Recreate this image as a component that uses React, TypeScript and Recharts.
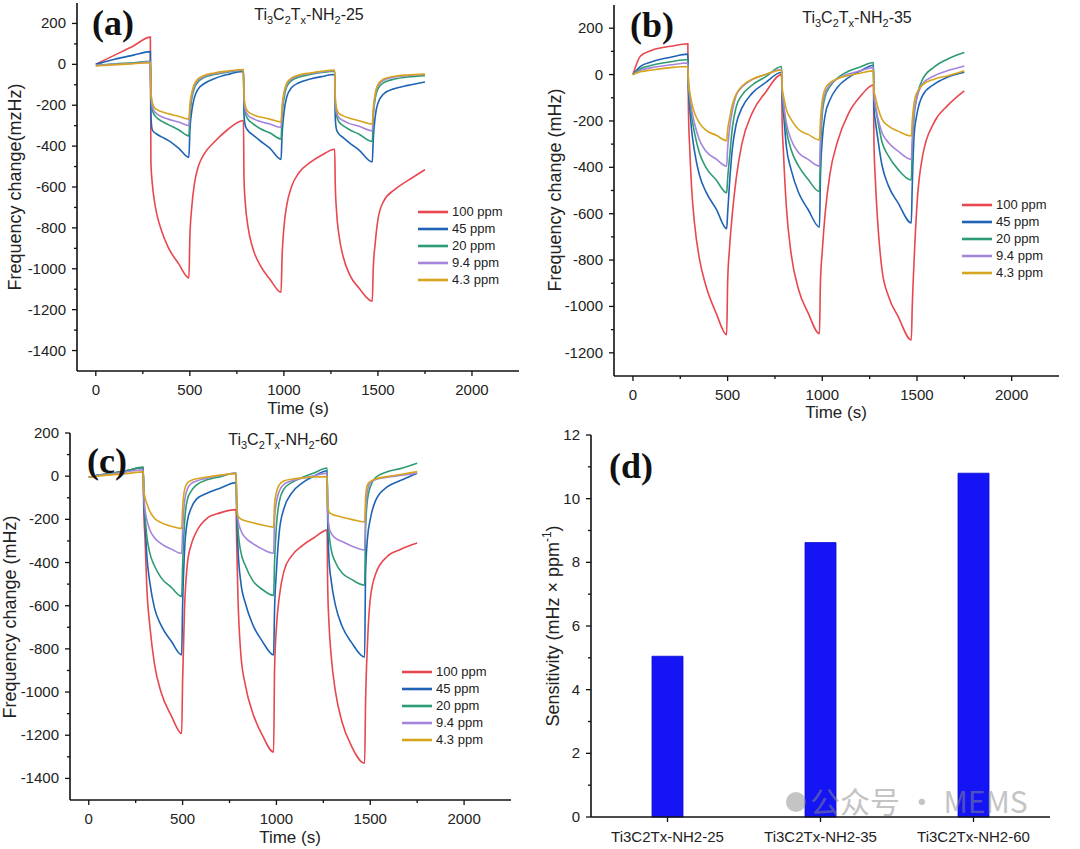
import React from "react";
import { LineChart, Line, XAxis, YAxis, BarChart, Bar, Legend } from "recharts";

const FONT = '"Liberation Sans", Arial, Helvetica, sans-serif';
const SERIF = '"Liberation Serif", "Times New Roman", serif';
const AXIS = "#111";
const TEXT = "#222";

// shared sampling times (s) for the three response panels
const TIME = [
  0, 40, 100, 200, 290,
  293, 300, 310, 325, 350, 385, 440, 495,
  500, 510, 525, 545, 575, 630, 700, 785,
  788, 795, 810, 835, 875, 925, 985,
  990, 1000, 1015, 1040, 1080, 1140, 1200, 1270,
  1273, 1280, 1292, 1315, 1350, 1400, 1470,
  1475, 1485, 1500, 1530, 1590, 1660, 1750,
];

// (a) Ti3C2Tx-NH2-25
const RED_A = [
  0, 18, 45, 90, 133,
  -480, -580, -660, -735, -815, -895, -975, -1045,
  -850, -700, -580, -500, -440, -380, -320, -275,
  -560, -680, -800, -900, -985, -1050, -1115,
  -950, -800, -690, -600, -530, -480, -445, -415,
  -580, -720, -830, -940, -1030, -1095, -1158,
  -1000, -880, -760, -670, -612, -568, -515,
];
const BLUE_A = [
  0, 10, 25, 45, 62,
  -250, -320, -332, -342, -355, -372, -410, -455,
  -330, -230, -160, -120, -95, -70, -50, -35,
  -250, -300, -325, -345, -375, -410, -465,
  -350, -240, -160, -115, -90, -72, -60, -50,
  -260, -320, -340, -358, -385, -420, -478,
  -370, -260, -190, -145, -118, -103, -86,
];
const GREEN_A = [
  -5, -2, 2, 8, 15,
  -150, -220, -245, -262, -278, -295, -320, -350,
  -260, -170, -115, -85, -65, -50, -38, -30,
  -180, -240, -270, -290, -315, -335, -365,
  -260, -170, -110, -80, -62, -50, -40, -33,
  -190, -250, -280, -300, -320, -342, -378,
  -260, -170, -120, -90, -72, -62, -55,
];
const PURPLE_A = [
  -5, -3, 0, 5, 12,
  -140, -205, -228, -243, -256, -268, -282, -300,
  -230, -155, -105, -78, -60, -46, -36, -28,
  -170, -225, -250, -265, -280, -292, -308,
  -230, -150, -100, -72, -56, -45, -37, -30,
  -180, -235, -260, -275, -290, -303, -325,
  -240, -155, -105, -78, -62, -55, -50,
];
const YELLOW_A = [
  -8, -6, -2, 3, 8,
  -130, -185, -210, -222, -232, -242, -254, -268,
  -200, -140, -95, -70, -55, -42, -33, -25,
  -150, -205, -232, -246, -258, -268, -282,
  -210, -140, -92, -67, -52, -42, -34, -28,
  -160, -215, -240, -252, -264, -276, -292,
  -220, -145, -98, -72, -58, -52, -48,
];

// (b) Ti3C2Tx-NH2-35
const RED_B = [
  0, 80, 105, 122, 133,
  -150, -320, -490, -640, -790, -910, -1030, -1122,
  -900, -750, -600, -450, -300, -165, -77, 0,
  -200, -337, -568, -770, -928, -1028, -1118,
  -900, -760, -600, -430, -290, -165, -95, -45,
  -300, -450, -630, -840, -957, -1043, -1145,
  -1000, -800, -560, -350, -207, -135, -70,
];
const BLUE_B = [
  0, 35, 55, 75, 88,
  -60, -145, -240, -330, -430, -505, -580, -665,
  -600, -470, -320, -215, -145, -80, -35, 10,
  -100, -164, -309, -409, -510, -582, -658,
  -450, -280, -175, -110, -55, -12, 15, 40,
  -150, -200, -270, -390, -481, -553, -640,
  -480, -260, -170, -90, -42, -12, 10,
];
const GREEN_B = [
  0, 25, 40, 55, 65,
  -40, -105, -180, -250, -335, -400, -455, -510,
  -450, -360, -230, -140, -90, -45, -10, 35,
  -80, -136, -237, -323, -395, -452, -505,
  -350, -170, -95, -52, -15, 15, 33, 52,
  -100, -140, -195, -290, -352, -409, -455,
  -320, -180, -95, -20, 32, 66, 95,
];
const PURPLE_B = [
  0, 18, 30, 42, 50,
  -35, -90, -150, -210, -280, -330, -365, -395,
  -320, -235, -155, -90, -55, -22, 0, 22,
  -70, -121, -207, -280, -337, -366, -395,
  -280, -140, -80, -44, -18, 3, 16, 30,
  -90, -130, -182, -250, -294, -330, -366,
  -280, -160, -100, -40, -6, 16, 37,
];
const YELLOW_B = [
  0, 12, 20, 30, 35,
  -30, -75, -120, -165, -207, -240, -262, -285,
  -240, -190, -130, -85, -50, -20, 0, 20,
  -55, -92, -150, -193, -237, -258, -282,
  -200, -110, -62, -36, -18, -4, 6, 16,
  -70, -95, -138, -192, -222, -244, -265,
  -200, -120, -77, -45, -20, -6, 16,
];

// (c) Ti3C2Tx-NH2-60
const RED_C = [
  -5, 3, 10, 25, 40,
  -150, -294, -530, -690, -870, -1000, -1110, -1192,
  -950, -620, -410, -320, -255, -195, -170, -155,
  -300, -560, -820, -970, -1100, -1200, -1278,
  -900, -700, -560, -440, -370, -320, -285, -250,
  -500, -680, -835, -1000, -1140, -1250, -1330,
  -1050, -780, -570, -450, -372, -340, -310,
];
const BLUE_C = [
  -5, 3, 10, 25, 40,
  -100, -218, -375, -490, -610, -690, -765, -828,
  -600, -350, -210, -150, -105, -79, -56, -30,
  -150, -330, -490, -590, -690, -765, -828,
  -620, -440, -260, -150, -80, -30, 0, 25,
  -200, -380, -485, -600, -695, -770, -838,
  -450, -290, -200, -110, -50, -20, 14,
];
const GREEN_C = [
  -5, 3, 10, 25, 42,
  -90, -187, -282, -355, -415, -470, -515, -557,
  -420, -220, -110, -70, -40, -17, -2, 15,
  -120, -240, -350, -415, -485, -525, -552,
  -400, -230, -120, -60, -30, -5, 15, 38,
  -150, -260, -340, -400, -448, -478, -505,
  -250, -110, -50, -5, 20, 35, 60,
];
const PURPLE_C = [
  -5, 2, 8, 20, 30,
  -80, -156, -205, -248, -285, -312, -338, -358,
  -260, -120, -60, -35, -22, -9, 3, 14,
  -110, -200, -250, -285, -312, -338, -357,
  -200, -120, -70, -38, -22, -10, 2, 14,
  -150, -235, -265, -287, -303, -323, -342,
  -180, -70, -30, -15, -5, 3, 14,
];
const YELLOW_C = [
  -5, 0, 5, 12, 20,
  -60, -100, -128, -162, -195, -215, -232, -242,
  -150, -65, -32, -20, -12, -4, 5, 12,
  -120, -185, -198, -207, -216, -226, -236,
  -130, -75, -40, -22, -14, -8, -4, -2,
  -120, -165, -175, -182, -190, -200, -212,
  -100, -40, -25, -12, -2, 8, 21,
];

// (d) sensitivity
const SAMPLES = ["Ti3C2Tx-NH2-25", "Ti3C2Tx-NH2-35", "Ti3C2Tx-NH2-60"];
const SENSITIVITY = [5.05, 8.62, 10.8];

const X_TICKS = [0, 250, 500, 750, 1000, 1250, 1500, 1750, 2000];
const Y_TICKS_A = [-1400, -1300, -1200, -1100, -1000, -900, -800, -700, -600, -500, -400, -300, -200, -100, 0, 100, 200];
const Y_TICKS_B = [-1200, -1100, -1000, -900, -800, -700, -600, -500, -400, -300, -200, -100, 0, 100, 200];
const Y_TICKS_C = [-1400, -1300, -1200, -1100, -1000, -900, -800, -700, -600, -500, -400, -300, -200, -100, 0, 100, 200];
const Y_TICKS_D = [0, 1, 2, 3, 4, 5, 6, 7, 8, 9, 10, 11, 12];

const SERIES = [
  { key: "p100", label: "100 ppm", color: "#e8474f" },
  { key: "p45", label: "45 ppm", color: "#1f64b4" },
  { key: "p20", label: "20 ppm", color: "#2e9c73" },
  { key: "p9", label: "9.4 ppm", color: "#a585db" },
  { key: "p4", label: "4.3 ppm", color: "#d6a41e" },
];

function buildRows(cols: number[][]) {
  return TIME.map((t, i) => {
    const row: Record<string, number> = { t };
    SERIES.forEach((s, k) => {
      row[s.key] = cols[k][i];
    });
    return row;
  });
}

function xTick(isMajor: (v: number) => boolean, fontSize: number) {
  return (props: any) => {
    const { x, y, payload } = props;
    const major = isMajor(payload.value);
    return (
      <g>
        <line x1={x} y1={y} x2={x} y2={y + (major ? 5 : 3)} stroke={AXIS} strokeWidth={1.3} />
        {major && (
          <text x={x} y={y + 24} textAnchor="middle" fontSize={fontSize} fontFamily={FONT} fill={TEXT}>
            {payload.value}
          </text>
        )}
      </g>
    );
  };
}

function yTick(isMajor: (v: number) => boolean, fontSize: number) {
  return (props: any) => {
    const { x, y, payload } = props;
    const major = isMajor(payload.value);
    return (
      <g>
        <line x1={x} y1={y} x2={x - (major ? 5 : 3)} y2={y} stroke={AXIS} strokeWidth={1.3} />
        {major && (
          <text x={x - 11} y={y + 5} textAnchor="end" fontSize={fontSize} fontFamily={FONT} fill={TEXT}>
            {payload.value}
          </text>
        )}
      </g>
    );
  };
}

function categoryTick(props: any) {
  const { x, y, payload } = props;
  return (
    <g>
      <line x1={x} y1={y} x2={x} y2={y + 5} stroke={AXIS} strokeWidth={1.3} />
      <text x={x} y={y + 25} textAnchor="middle" fontSize={15} fontFamily={FONT} fill={TEXT}>
        {payload.value}
      </text>
    </g>
  );
}

function LegendBox() {
  return (
    <div style={{ fontFamily: FONT, fontSize: 13, color: TEXT, lineHeight: "17px" }}>
      {SERIES.map((s) => (
        <div key={s.key} style={{ display: "flex", alignItems: "center", height: 17 }}>
          <svg width={30} height={6}>
            <line x1={0} y1={3} x2={30} y2={3} stroke={s.color} strokeWidth={2.6} />
          </svg>
          <span style={{ marginLeft: 4 }}>{s.label}</span>
        </div>
      ))}
    </div>
  );
}

interface PanelProps {
  left: number;
  top: number;
  height: number;
  margin: { top: number; right: number; bottom: number; left: number };
  yDomain: [number, number];
  yTicks: number[];
  cols: number[][];
  legend: { left: number; top: number };
}

const frame = { stroke: AXIS, strokeWidth: 1.6 };
const xMajor = (v: number) => v % 500 === 0;
const yMajor = (v: number) => v % 200 === 0;

function ResponsePanel({ left, top, height, margin, yDomain, yTicks, cols, legend }: PanelProps) {
  const rows = buildRows(cols);
  return (
    <div style={{ position: "absolute", left, top, width: 540, height }}>
      <LineChart width={540} height={height} data={rows} margin={margin}>
        <XAxis
          dataKey="t"
          type="number"
          domain={[-100, 2250]}
          ticks={X_TICKS}
          interval={0}
          tickSize={0}
          tickMargin={0}
          tickLine={false}
          axisLine={frame}
          tick={xTick(xMajor, 15)}
          height={30}
        />
        <XAxis xAxisId="top" orientation="top" dataKey="t" type="number" domain={[-100, 2250]} height={0} tick={false} tickLine={false} axisLine={frame} />
        <YAxis
          type="number"
          domain={yDomain}
          ticks={yTicks}
          interval={0}
          tickSize={0}
          tickMargin={0}
          tickLine={false}
          axisLine={frame}
          tick={yTick(yMajor, 15)}
          width={60}
        />
        <YAxis yAxisId="right" orientation="right" type="number" domain={yDomain} width={0} tick={false} tickLine={false} axisLine={frame} />
        <Legend
          layout="vertical"
          align="center"
          verticalAlign="middle"
          wrapperStyle={{ left: legend.left, top: legend.top, width: 110 }}
          content={() => <LegendBox />}
        />
        {SERIES.map((s) => (
          <Line
            key={s.key}
            dataKey={s.key}
            name={s.label}
            type="monotone"
            stroke={s.color}
            strokeWidth={1.6}
            dot={false}
            isAnimationActive={false}
          />
        ))}
      </LineChart>
    </div>
  );
}

function SensitivityPanel() {
  const rows = SAMPLES.map((name, i) => ({ name, s: SENSITIVITY[i] }));
  return (
    <div style={{ position: "absolute", left: 540, top: 420, width: 540, height: 429 }}>
      <BarChart width={540} height={429} data={rows} margin={{ top: 15, right: 30, bottom: 2, left: 11 }} barSize={31}>
        <XAxis
          dataKey="name"
          interval={0}
          tickSize={0}
          tickMargin={0}
          tickLine={false}
          axisLine={frame}
          tick={categoryTick}
          height={30}
        />
        <XAxis xAxisId="top" orientation="top" dataKey="name" height={0} tick={false} tickLine={false} axisLine={frame} />
        <YAxis
          type="number"
          domain={[0, 12]}
          ticks={Y_TICKS_D}
          interval={0}
          tickSize={0}
          tickMargin={0}
          tickLine={false}
          axisLine={frame}
          tick={yTick((v) => v % 2 === 0, 15)}
          width={40}
        />
        <YAxis yAxisId="right" orientation="right" type="number" domain={[0, 12]} width={0} tick={false} tickLine={false} axisLine={frame} />
        <Bar dataKey="s" fill="#1414f4" stroke="#0a0ad0" strokeWidth={0.8} isAnimationActive={false} />
      </BarChart>
    </div>
  );
}

function Title({ x, y, suffix }: { x: number; y: number; suffix: string }) {
  return (
    <text x={x} y={y} textAnchor="middle" fontSize={16} fontFamily={FONT} fill={TEXT}>
      Ti
      <tspan fontSize={11} dy={4}>3</tspan>
      <tspan dy={-4}>C</tspan>
      <tspan fontSize={11} dy={4}>2</tspan>
      <tspan dy={-4}>T</tspan>
      <tspan fontSize={11} dy={4}>x</tspan>
      <tspan dy={-4}>-NH</tspan>
      <tspan fontSize={11} dy={4}>2</tspan>
      <tspan dy={-4}>{suffix}</tspan>
    </text>
  );
}

function VLabel({ x, y, children }: { x: number; y: number; children: React.ReactNode }) {
  return (
    <text transform={`translate(${x},${y}) rotate(-90)`} textAnchor="middle" dominantBaseline="central" fontSize={18} fontFamily={FONT} fill={TEXT}>
      {children}
    </text>
  );
}

function Letter({ x, y, text }: { x: number; y: number; text: string }) {
  return (
    <text x={x} y={y} fontSize={36} fontWeight="bold" fontFamily={SERIF} fill="#111">
      {text}
    </text>
  );
}

function TimeLabel({ x, y }: { x: number; y: number }) {
  return (
    <text x={x} y={y} textAnchor="middle" fontSize={17} fontFamily={FONT} fill={TEXT}>
      Time (s)
    </text>
  );
}

export default function App() {
  return (
    <div style={{ position: "absolute", left: 0, top: 0, width: 1080, height: 849, background: "#fff", overflow: "hidden" }}>
      <ResponsePanel
        left={0}
        top={0}
        height={420}
        margin={{ top: 3, right: 21, bottom: 19, left: 17 }}
        yDomain={[-1500, 300]}
        yTicks={Y_TICKS_A}
        cols={[RED_A, BLUE_A, GREEN_A, PURPLE_A, YELLOW_A]}
        legend={{ left: 418, top: 203 }}
      />
      <ResponsePanel
        left={540}
        top={0}
        height={420}
        margin={{ top: 5, right: 21, bottom: 14, left: 14 }}
        yDomain={[-1300, 300]}
        yTicks={Y_TICKS_B}
        cols={[RED_B, BLUE_B, GREEN_B, PURPLE_B, YELLOW_B]}
        legend={{ left: 422, top: 196 }}
      />
      <ResponsePanel
        left={0}
        top={420}
        height={429}
        margin={{ top: 13, right: 29, bottom: 19, left: 10 }}
        yDomain={[-1500, 200]}
        yTicks={Y_TICKS_C}
        cols={[RED_C, BLUE_C, GREEN_C, PURPLE_C, YELLOW_C]}
        legend={{ left: 402, top: 243 }}
      />
      <SensitivityPanel />
      <svg width={1080} height={849} style={{ position: "absolute", left: 0, top: 0, pointerEvents: "none" }}>
        <Letter x={92} y={35} text="(a)" />
        <Letter x={630} y={37} text="(b)" />
        <Letter x={87} y={473} text="(c)" />
        <Letter x={609} y={478} text="(d)" />
        <Title x={309} y={20} suffix="-25" />
        <Title x={857} y={23} suffix="-35" />
        <Title x={283} y={445} suffix="-60" />
        <VLabel x={15} y={187}>Frequency change(mzHz)</VLabel>
        <VLabel x={555} y={190}>Frequency change (mHz)</VLabel>
        <VLabel x={10} y={617}>Frequency change (mHz)</VLabel>
        <VLabel x={553} y={626}>
          Sensitivity (mHz × ppm
          <tspan fontSize={12} dy={-6}>-1</tspan>
          <tspan dy={6}>)</tspan>
        </VLabel>
        <TimeLabel x={298} y={414} />
        <TimeLabel x={836} y={418} />
        <TimeLabel x={290} y={843} />
        <g opacity={0.5}>
          <circle cx={796} cy={802} r={10} fill="#8a8a8a" />
          <text x={810} y={813} fontSize={30} fontFamily='"Noto Sans CJK SC", sans-serif' fill="#8a8a8a">
            公众号 · MEMS
          </text>
        </g>
      </svg>
    </div>
  );
}
